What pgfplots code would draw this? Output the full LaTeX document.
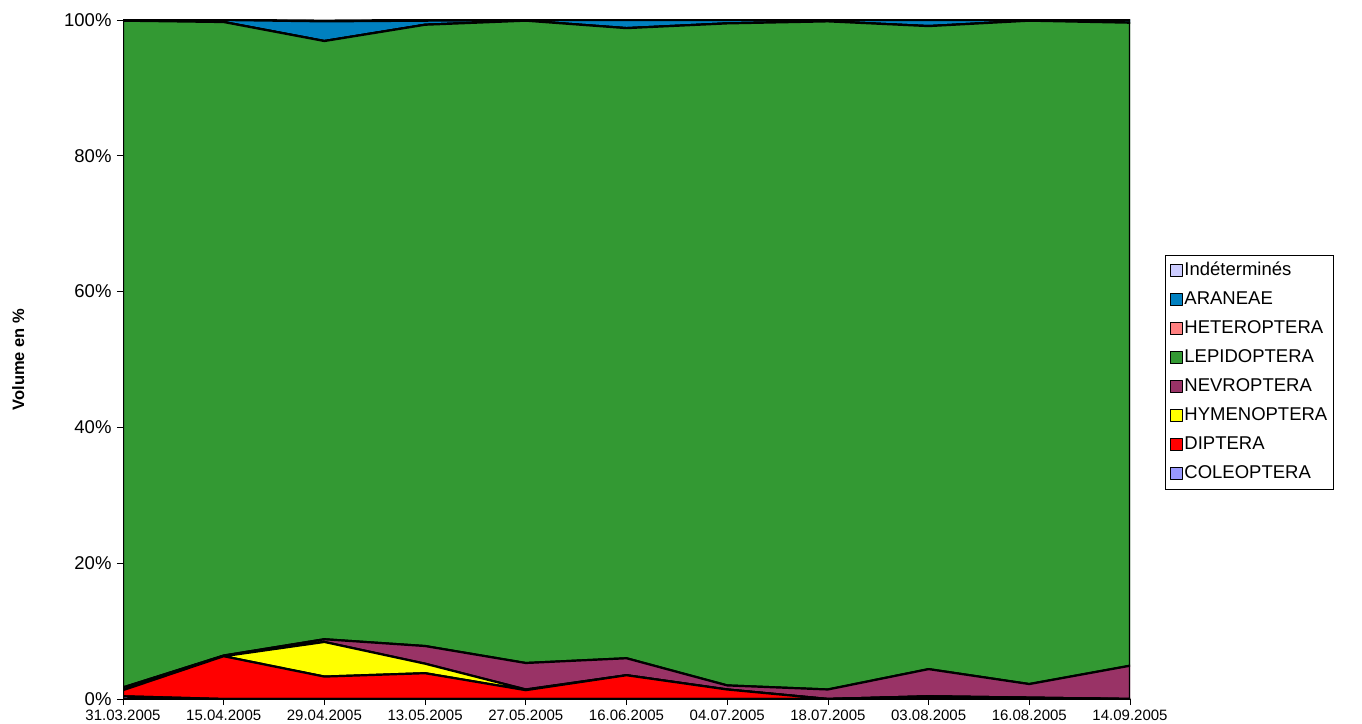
\documentclass[border=0pt]{standalone}
\usepackage{graphicx}
\usepackage{fontspec}
\setmainfont{Liberation Sans}
\usepackage{pgfplots}
\pgfplotsset{compat=1.18}
\definecolor{cColeo}{HTML}{9999FF}
\definecolor{cDipt}{HTML}{FF0000}
\definecolor{cHyme}{HTML}{FFFF00}
\definecolor{cNevr}{HTML}{993366}
\definecolor{cLepi}{HTML}{339933}
\definecolor{cHete}{HTML}{FF8080}
\definecolor{cAran}{HTML}{0080C0}
\definecolor{cInde}{HTML}{CCCCFF}
\begin{document}
\begin{tikzpicture}
\useasboundingbox (0,0) rectangle (1362bp,724bp);
\begin{axis}[
  at={(123bp,25bp)}, anchor=south west,
  scale only axis, width=1007bp, height=679bp,
  stack plots=y,
  xmin=0, xmax=10, ymin=0, ymax=100,
  xtick={0,...,10},
  xticklabels={31.03.2005,15.04.2005,29.04.2005,13.05.2005,27.05.2005,16.06.2005,04.07.2005,18.07.2005,03.08.2005,16.08.2005,14.09.2005},
  ytick={0,20,40,60,80,100},
  yticklabels={0\%,20\%,40\%,60\%,80\%,100\%},
  /pgf/number format/assume math mode=true,
  x tick label style={font=\fontsize{15bp}{17bp}\selectfont, yshift=-2bp},
  y tick label style={font=\fontsize{18.5bp}{20bp}\selectfont, xshift=-2bp},
  tick align=outside, major tick length=6bp,
  tick style={black, line width=0.8bp},
  axis line style={black, line width=0.8bp},
  axis x line*=bottom, axis y line*=left,
  ylabel={Volume en \%},
  ylabel style={font=\bfseries\fontsize{16.5bp}{18bp}\selectfont, at={(axis description cs:-0.104,0.5)}, anchor=center},
  reverse legend,
  legend cell align=left,
  legend style={at={(1.035,0.654)}, anchor=north west, draw=black, line width=0.8bp,
    font=\fontsize{18.5bp}{20bp}\selectfont, row sep=8bp, inner xsep=4bp, inner ysep=5bp,
    nodes={inner sep=2bp, text height=13bp, text depth=4bp}},
  legend image code/.code={\draw[#1, draw=black, line width=0.8bp] (0bp,-6bp) rectangle (12bp,6bp);},
  every axis plot/.append style={draw=black, line width=2.2bp, line join=round},
]
% COLEOPTERA
\addplot[fill=cColeo] coordinates {(0,0.4) (1,0) (2,0) (3,0) (4,0) (5,0) (6,0) (7,0) (8,0.3) (9,0.1) (10,0)} \closedcycle;
\addlegendentry{COLEOPTERA}
% DIPTERA
\addplot[fill=cDipt] coordinates {(0,0.9) (1,6.3) (2,3.3) (3,3.8) (4,1.3) (5,3.5) (6,1.4) (7,0) (8,0.1) (9,0.1) (10,0)} \closedcycle;
\addlegendentry{DIPTERA}
% HYMENOPTERA
\addplot[fill=cHyme] coordinates {(0,0) (1,0) (2,5.1) (3,1.4) (4,0.1) (5,0) (6,0) (7,0) (8,0) (9,0) (10,0)} \closedcycle;
\addlegendentry{HYMENOPTERA}
% NEVROPTERA
\addplot[fill=cNevr] coordinates {(0,0.4) (1,0.1) (2,0.4) (3,2.6) (4,3.9) (5,2.5) (6,0.6) (7,1.4) (8,4.0) (9,2.0) (10,4.9)} \closedcycle;
\addlegendentry{NEVROPTERA}
% LEPIDOPTERA
\addplot[fill=cLepi] coordinates {(0,98.2) (1,93.3) (2,88.1) (3,91.5) (4,94.6) (5,92.8) (6,97.5) (7,98.4) (8,94.7) (9,97.7) (10,94.7)} \closedcycle;
\addlegendentry{LEPIDOPTERA}
% HETEROPTERA
\addplot[fill=cHete] coordinates {(0,0) (1,0) (2,0) (3,0) (4,0) (5,0) (6,0) (7,0) (8,0) (9,0) (10,0)} \closedcycle;
\addlegendentry{HETEROPTERA}
% ARANEAE
\addplot[fill=cAran] coordinates {(0,0.1) (1,0.3) (2,2.9) (3,0.6) (4,0.1) (5,1.2) (6,0.5) (7,0.2) (8,0.9) (9,0.1) (10,0.4)} \closedcycle;
\addlegendentry{ARANEAE}
% Indetermines
\addplot[fill=cInde] coordinates {(0,0) (1,0) (2,0.1) (3,0.1) (4,0) (5,0) (6,0) (7,0) (8,0) (9,0) (10,0)} \closedcycle;
\addlegendentry{Indéterminés}
\end{axis}
\end{tikzpicture}
\end{document}
